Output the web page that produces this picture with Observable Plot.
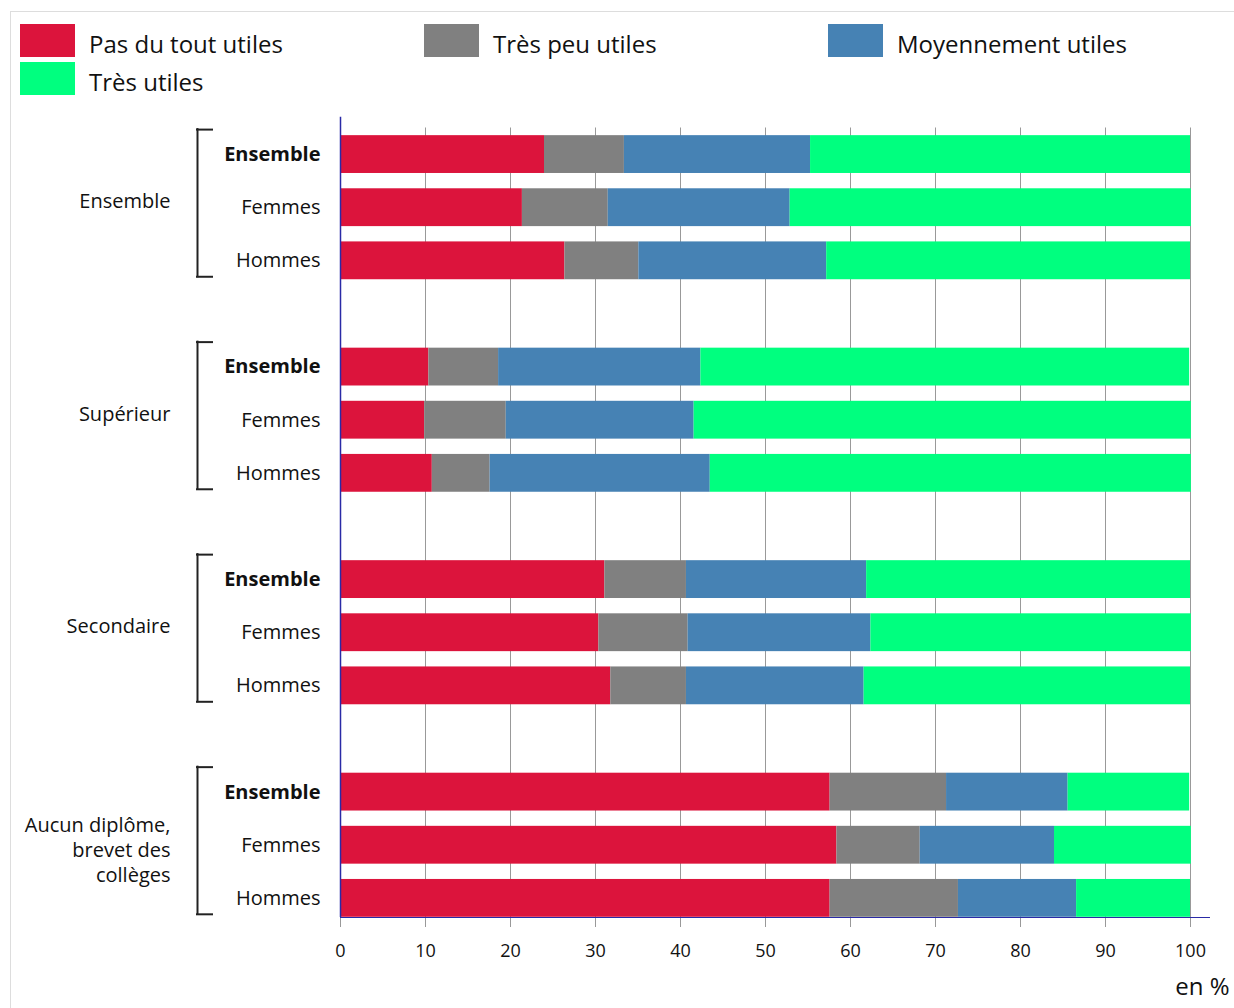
<!DOCTYPE html>
<html lang="fr">
<head>
<meta charset="utf-8">
<script src="https://cdn.jsdelivr.net/npm/d3@7"></script>
<script src="https://cdn.jsdelivr.net/npm/@observablehq/plot@0.6"></script>
<style>
  html, body { margin: 0; padding: 0; background: #fff; overflow: hidden; }
  body { width: 1234px; height: 1008px; position: relative; font-family: "Open Sans", sans-serif; color: #111; }
  #frame { position: absolute; left: 10px; top: 11px; width: 1300px; height: 1100px;
           border-top: 1px solid #ddd; border-left: 1px solid #ddd; pointer-events: none; z-index: 5; }
  #legend { height: 105px; position: relative; }
  .item { position: absolute; display: flex; align-items: center; height: 33px; }
  .sw { width: 55px; height: 33px; margin-right: 14px; }
  .lab { font-size: 24px; line-height: 33px; white-space: nowrap; position: relative; top: 3px; }
  #chart svg { display: block; }
</style>
</head>
<body>
<div id="frame"></div>
<div id="legend"></div>
<div id="chart"></div>
<script>
// ---- Data ----
const categories = ["Pas du tout utiles", "Très peu utiles", "Moyennement utiles", "Très utiles"];
const colors = ["#DC143C", "#808080", "#4682B4", "#00FF7F"];
const groups = ["Ensemble", "Supérieur", "Secondaire", "Aucun diplôme,\nbrevet des\ncollèges"];
const subgroups = ["Ensemble", "Femmes", "Hommes"];
// one value per row, rows ordered group by group (Ensemble, Femmes, Hommes)
const pasDuTout   = [24.0, 21.4, 26.4, 10.4,  9.9, 10.8, 31.1, 30.4, 31.8, 57.6, 58.4, 57.6];
const tresPeu     = [ 9.4, 10.1,  8.7,  8.2,  9.6,  6.8,  9.6, 10.5,  8.9, 13.7,  9.8, 15.1];
const moyennement = [21.9, 21.4, 22.1, 23.8, 22.1, 25.9, 21.2, 21.5, 20.9, 14.3, 15.8, 13.9];
const tres        = [44.7, 47.2, 42.8, 57.5, 58.5, 56.6, 38.1, 37.7, 38.4, 14.3, 16.1, 13.4];
const xTicks = [0, 10, 20, 30, 40, 50, 60, 70, 80, 90, 100];
const unitLabel = "en %";

// ---- Legend ----
const legend = document.getElementById("legend");
categories.forEach((c, k) => {
  const row = Math.floor(k / 3), col = k % 3;
  const it = document.createElement("div");
  it.className = "item";
  it.style.left = (20 + col * 404) + "px";
  it.style.top = (24 + row * 38) + "px";
  it.innerHTML = `<div class="sw" style="background:${colors[k]}"></div><div class="lab"></div>`;
  it.querySelector(".lab").textContent = c;
  legend.appendChild(it);
});

// ---- Build table ----
const series = [pasDuTout, tresPeu, moyennement, tres];
const rows = [];      // label rows
const segs = [];      // stacked segments
groups.forEach((g, gi) => {
  subgroups.forEach((s, si) => {
    const r = gi * 3 + si;
    const i = gi * 4 + si;   // position index with a gap between groups
    rows.push({i, label: s, bold: si === 0});
    let acc = 0;
    series.forEach((arr, k) => {
      segs.push({i, cat: categories[k], x1: acc, x2: acc + arr[r]});
      acc += arr[r];
    });
  });
});
const groupMeta = groups.map((g, gi) => ({i0: gi * 4, label: g, multi: g.includes("\n")}));

// ---- Layout helpers ----
const PX = 100 / 850;              // data units per pixel on x
const half = 0.356;                // half bar thickness (in row units)
const bracketX = -143 * PX, bracketEnd = -128 * PX;
const axisBlue = "#2a2aa6";
const bracketTicks = groupMeta.flatMap(d => [{y: d.i0 - 0.47}, {y: d.i0 + 2.30}]);

const chart = Plot.plot({
  width: 1234,
  height: 903,
  marginLeft: 340,
  marginRight: 44,
  marginTop: 22.5,
  marginBottom: 91,
  style: {fontFamily: "Open Sans", fontSize: "18px", color: "#111", overflow: "visible", background: "transparent"},
  x: {domain: [0, 100], axis: null},
  y: {type: "linear", domain: [14.36, -0.5], axis: null},
  color: {domain: categories, range: colors},
  marks: [
    Plot.gridX(xTicks, {stroke: "#999", strokeOpacity: 1, strokeWidth: 1}),
    Plot.rect(segs, {x1: "x1", x2: "x2", y1: d => d.i - half, y2: d => d.i + half, fill: "cat"}),
    Plot.axisX({ticks: xTicks, tickFormat: d => d, tickSize: 10, tickPadding: 17, stroke: "#999", fill: "#111", fontSize: 18}),
    Plot.ruleX([0], {y1: -0.7, y2: 14.36, stroke: axisBlue, strokeWidth: 1.5}),
    Plot.ruleY([14.36], {x1: 0, x2: 102.35, stroke: axisBlue, strokeWidth: 1.2}),
    // row labels
    Plot.text(rows.filter(d => d.bold), {x: 0, y: "i", text: "label", textAnchor: "end", dx: -20, fontSize: 20, fontWeight: "bold", fill: "#111"}),
    Plot.text(rows.filter(d => !d.bold), {x: 0, y: "i", text: "label", textAnchor: "end", dx: -20, fontSize: 20, fill: "#111"}),
    // group labels
    Plot.text(groupMeta.filter(d => !d.multi), {x: 0, y: d => d.i0 + 1, text: "label", textAnchor: "end", dx: -170, dy: -6, fontSize: 20, fill: "#111"}),
    Plot.text(groupMeta.filter(d => d.multi), {x: 0, y: d => d.i0 + 1, text: "label", textAnchor: "end", dx: -170, dy: 4, fontSize: 20, lineHeight: 1.25, fill: "#111"}),
    // brackets
    Plot.ruleX(groupMeta, {x: bracketX, y1: d => d.i0 - 0.47, y2: d => d.i0 + 2.30, stroke: "#222", strokeWidth: 2, strokeLinecap: "square"}),
    Plot.ruleY(bracketTicks, {y: "y", x1: bracketX, x2: bracketEnd, stroke: "#222", strokeWidth: 2, strokeLinecap: "square"}),
    // unit label
    Plot.text([unitLabel], {frameAnchor: "bottom-right", text: d => d, textAnchor: "end", dx: 39, dy: 77, fontSize: 24, fill: "#111"})
  ]
});
document.getElementById("chart").appendChild(chart);
</script>
</body>
</html>
